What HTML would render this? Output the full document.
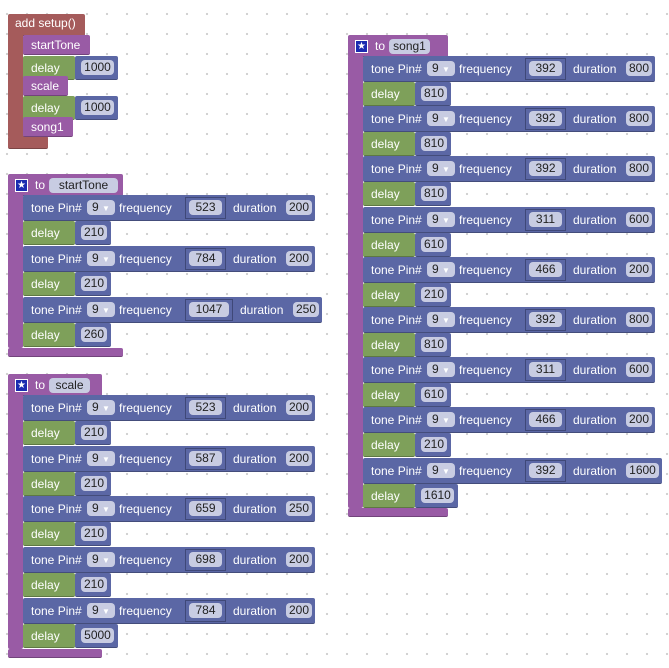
<!DOCTYPE html>
<html><head><meta charset="utf-8"><style>
body{margin:0;width:669px;height:668px;overflow:hidden;background:#fff;
background-image:radial-gradient(circle,#cfcfcf 1px,transparent 1.3px);background-size:20px 20px;background-position:-3px 4px;
font-family:"Liberation Sans",sans-serif;font-size:12px;}
.b{position:absolute;box-sizing:border-box;}
.t{position:absolute;color:#fff;white-space:nowrap;line-height:14px;}
.f{position:absolute;background:#c8cce2;border-radius:4px;color:#222;text-align:center;line-height:15px;height:15px;}
</style></head><body>
<div id="w"></div>
<script>
var W=document.getElementById('w'),h='';
var P='#995ba5',B='#5b67a5',G='#7ea05a',R='#a55b5b';
function box(x,y,w,hh,c,ex){h+='<div class="b" style="left:'+x+'px;top:'+y+'px;width:'+w+'px;height:'+hh+'px;background:'+c+';border-radius:2px;border-bottom:1px solid rgba(0,0,0,.25);'+(ex||'')+'"></div>';}
function t(x,y,s,ex){h+='<div class="t" style="left:'+x+'px;top:'+y+'px;'+(ex||'')+'">'+s+'</div>';}
function f(x,y,w,s){h+='<div class="f" style="left:'+x+'px;top:'+y+'px;width:'+w+'px">'+s+'</div>';}
function tone(x,y,fr,du){
 var fw=fr.length>3?40:33, dw=du.length>3?33:26, ex=(fw-33);
 var end=263+ex+dw+3;
 box(x,y,end,26,B);
 t(x+8,y+6,'tone Pin#');
 f(x+64,y+5,28,'9 <span style="font-size:8px;color:#fff">▼</span>');
 t(x+96,y+6,'frequency');
 h+='<div class="b" style="left:'+(x+162)+'px;top:'+(y+2)+'px;width:'+(fw+8)+'px;height:22px;border:1px solid #3f4878;background:#5b67a5"></div>';
 f(x+166,y+5,fw,fr);
 t(x+210+ex,y+6,'duration');
 f(x+263+ex,y+5,dw,du);
}
function delay(x,y,v){
 var vw=v.length>3?33:26;
 box(x,y,52,24,G);
 t(x+8,y+5,'delay');
 box(x+52,y,vw+10,24,B);
 f(x+58,y+4,vw,v);
}
function call(x,y,s,w){box(x,y,w,20,P);t(x+8,y+3,s);}
// setup
box(8,14,77,22,R);t(15,16,'add setup()');
box(8,30,15,108,R,'border-bottom:none');
box(8,136,40,13,R);
call(23,35,'startTone',67);
delay(23,56,'1000');
call(23,76,'scale',45);
delay(23,96,'1000');
call(23,117,'song1',50);
function proc(x,y,name,w,rows,botw,th,dh){
 box(x,y,w,22,P);
 h+='<div class="b" style="left:'+(x+7)+'px;top:'+(y+5)+'px;width:13px;height:13px;background:#1a2bb0;border:1px solid #fff;color:#fff;font-size:10px;line-height:12px;text-align:center">★</div>';
 t(x+27,y+4,'to');
 f(x+41,y+4,name.length*7+6,name);
 var yy=y+21;
 rows.forEach(function(r){ var ry=Math.round(yy); if(r.length==2){tone(x+15,ry,r[0],r[1]);yy+=th;} else {delay(x+15,ry,r[0]);yy+=dh;} });
 yy=Math.round(yy);
 box(x,y+20,15,yy-y-20,P,'border-bottom:none');
 box(x,yy,botw,9,P);
}
proc(8,174,'startTone',115,[['523','200'],['210'],['784','200'],['210'],['1047','250'],['260']],115,26,25);
proc(8,374,'scale',94,[['523','200'],['210'],['587','200'],['210'],['659','250'],['210'],['698','200'],['210'],['784','200'],['5000']],94,26,24.7);
proc(348,35,'song1',100,[['392','800'],['810'],['392','800'],['810'],['392','800'],['810'],['311','600'],['610'],['466','200'],['210'],['392','800'],['810'],['311','600'],['610'],['466','200'],['210'],['392','1600'],['1610']],100,26,24.2);
W.innerHTML=h;
</script>
</body></html>
